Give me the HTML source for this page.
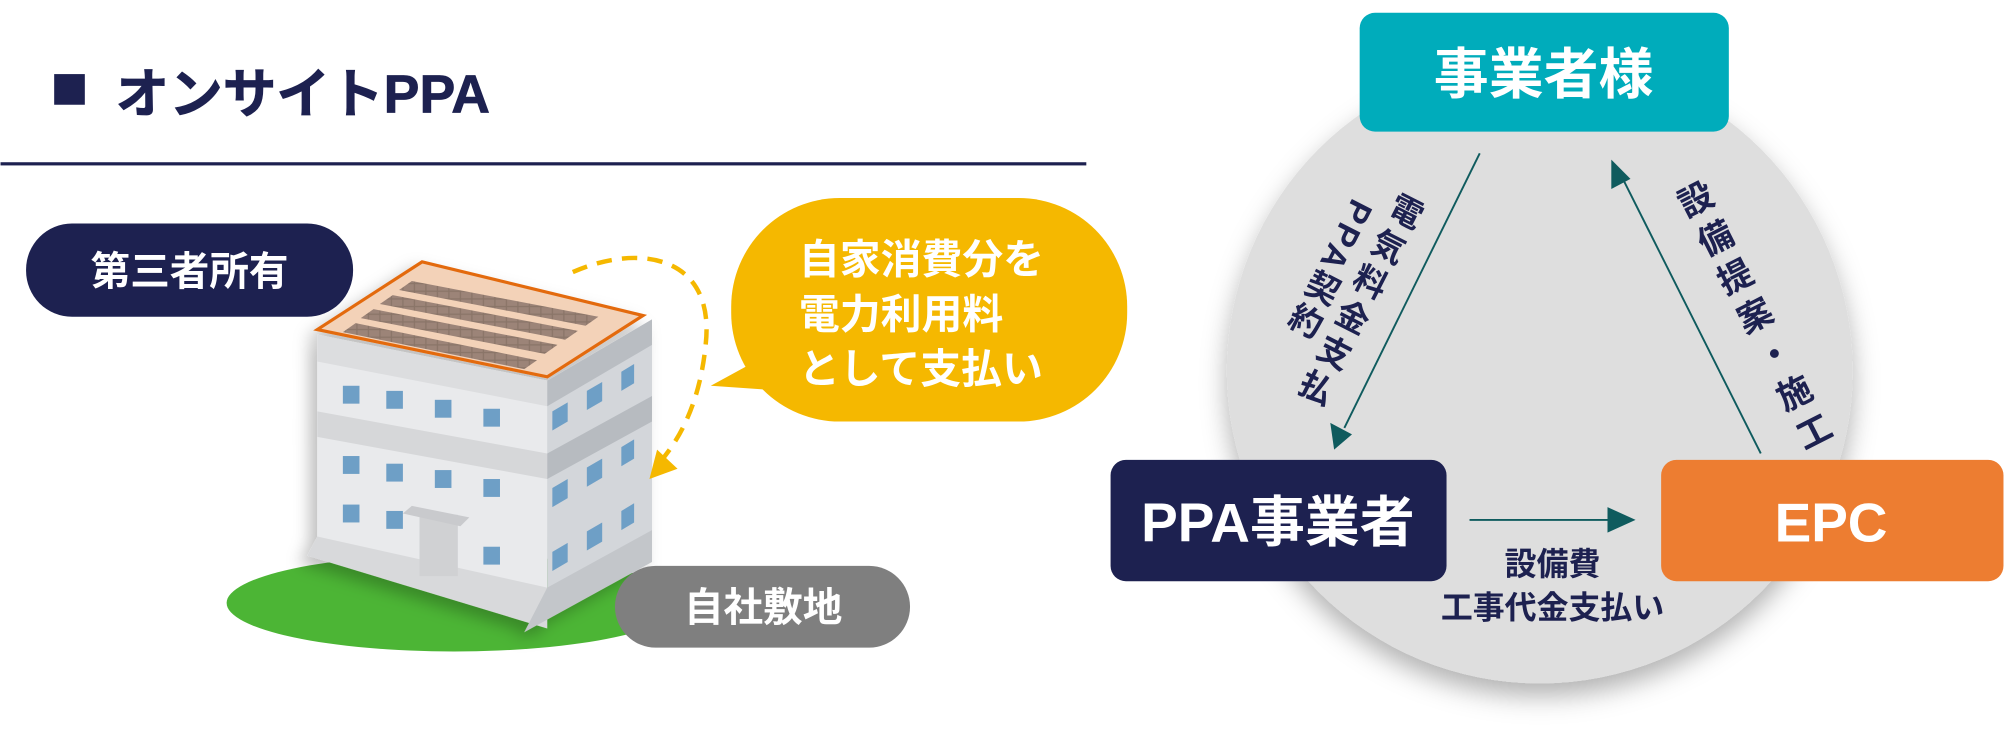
<!DOCTYPE html>
<html><head><meta charset="utf-8"><style>
html,body{margin:0;padding:0;background:#fff;width:2004px;height:746px;overflow:hidden}
svg{display:block}
text{font-family:"Liberation Sans","Noto Sans CJK JP",sans-serif;font-weight:bold}
</style></head><body>
<svg width="2004" height="746" viewBox="0 0 1568 584" xmlns="http://www.w3.org/2000/svg">
<defs>
<filter id="sh" x="-20%" y="-20%" width="140%" height="150%"><feDropShadow dx="0" dy="10" stdDeviation="10" flood-color="#000" flood-opacity="0.3"/></filter>
<filter id="bs" x="-20%" y="-20%" width="140%" height="140%"><feDropShadow dx="-6" dy="6" stdDeviation="6" flood-color="#000" flood-opacity="0.25"/></filter>
<pattern id="pv" width="9" height="6" patternUnits="userSpaceOnUse"><rect width="9" height="6" fill="#8a7468"/><rect x="0.5" y="0.5" width="8" height="5" fill="#9c8478"/></pattern>
</defs>
<rect x="42" y="58" width="24" height="24" fill="#1d2150"/>
<text x="90" y="88" font-size="42" fill="#1d2150" stroke="#1d2150" stroke-width="0.6">オンサイトPPA</text>
<rect x="0" y="127" width="850" height="2.5" fill="#1d2150"/>
<ellipse cx="355" cy="472" rx="178" ry="38" fill="#4cb535"/>
<g filter="url(#bs)">
<polygon points="248,265 428,300 428,470 248,428" fill="#e9eaec"/>
<polygon points="428,300 510,250 510,420 428,470" fill="#d3d6da"/>
<polygon points="240,435 248,420 428,460 428,492" fill="#d8d9db"/>
<polygon points="428,460 510,415 510,440 410,495" fill="#c3c6ca"/>
<polygon points="248,262 428,298 428,318 248,283" fill="#dcdddf"/>
<polygon points="428,298 510,250 510,270 428,318" fill="#b9bdc2"/>
<polygon points="248,322 428,355 428,375 248,342" fill="#d6d7d9"/>
<polygon points="428,355 510,310 510,330 428,375" fill="#b7bbc0"/>
<polygon points="248,258 330,205 503,247 428,295" fill="#f3d2b8" stroke="#e36a10" stroke-width="2.5"/>
<g fill="url(#pv)">
<polygon points="268,260 278,253 420,282 410,289"/>
<polygon points="282,249 292,242 436,270 426,277"/>
<polygon points="297,238 307,231 452,259 442,266"/>
<polygon points="312,227 322,220 468,248 458,255"/>
</g>
<rect x="328" y="403" width="30" height="48" fill="#d0d1d3"/>
<polygon points="315,402 360,412 367,405 322,396" fill="#c9cacd"/>
</g>
<g fill="#6e9fc6">
<rect x="268" y="302" width="13" height="14"/><rect x="302" y="306" width="13" height="14"/><rect x="340" y="313" width="13" height="14"/><rect x="378" y="320" width="13" height="14"/>
<rect x="268" y="357" width="13" height="14"/><rect x="302" y="363" width="13" height="14"/><rect x="340" y="368" width="13" height="14"/><rect x="378" y="375" width="13" height="14"/>
<rect x="268" y="395" width="13" height="14"/><rect x="302" y="400" width="13" height="14"/><rect x="378" y="428" width="13" height="14"/>
<polygon points="432,322 444,315 444,330 432,337"/><polygon points="459,306 471,299 471,314 459,321"/><polygon points="486,291 496,285 496,300 486,306"/>
<polygon points="432,382 444,375 444,390 432,397"/><polygon points="459,366 471,359 471,374 459,381"/><polygon points="486,350 496,344 496,359 486,365"/>
<polygon points="432,432 444,425 444,440 432,447"/><polygon points="459,416 471,409 471,424 459,431"/><polygon points="486,400 496,394 496,409 486,415"/>
</g>
<path d="M448,213 C500,190 560,200 552,270 C548,310 535,340 516,362" fill="none" stroke="#f5b800" stroke-width="3.5" stroke-dasharray="12,8"/>
<polygon points="508,375 514,352 530,367" fill="#f5b800"/>
<rect x="20" y="175" width="256" height="73" rx="36" fill="#1d2150"/>
<text x="148" y="223" font-size="31" fill="#fff" text-anchor="middle">第三者所有</text>
<rect x="481" y="443" width="231" height="64" rx="32" fill="#7f7f7f"/>
<text x="597" y="486" font-size="31" fill="#fff" text-anchor="middle">自社敷地</text>
<path d="M556,302 L600,278 L600,305 Z" fill="#f5b800"/>
<rect x="572" y="155" width="310" height="175" rx="85" fill="#f5b800"/>
<text font-size="32" fill="#fff"><tspan x="625" y="214">自家消費分を</tspan><tspan x="625" y="257">電力利用料</tspan><tspan x="625" y="300">として支払い</tspan></text>
<circle cx="1205" cy="290" r="245" fill="#dedede" filter="url(#sh)"/>
<rect x="1064" y="10" width="289" height="93" rx="12" fill="#00acbb"/>
<text x="1208" y="73" font-size="43" fill="#fff" text-anchor="middle">事業者様</text>
<rect x="869" y="360" width="263" height="95" rx="12" fill="#1d2150"/>
<text x="1000" y="424" font-size="43" fill="#fff" text-anchor="middle">PPA事業者</text>
<rect x="1300" y="360" width="268" height="95" rx="12" fill="#ed7d31"/>
<text x="1433" y="424" font-size="43" fill="#fff" text-anchor="middle">EPC</text>
<g stroke="#0f5b5e" stroke-width="1.5">
<line x1="1158" y1="120" x2="1052" y2="335"/>
<line x1="1378" y1="355" x2="1270" y2="140"/>
<line x1="1150" y1="407" x2="1262" y2="407"/>
</g>
<g fill="#0f5b5e">
<polygon points="1044,352 1041,331 1058,340"/>
<polygon points="1261,125 1261,148 1276,140"/>
<polygon points="1280,407 1258,397 1258,417"/>
</g>
<text transform="translate(1104,152) rotate(27)" font-size="26" fill="#1d2150" letter-spacing="5" style="writing-mode:vertical-rl">電気料金支払</text>
<text transform="translate(1066,158) rotate(27)" font-size="26" fill="#1d2150" letter-spacing="3" style="writing-mode:vertical-rl">PPA契約</text>
<text transform="translate(1318,145) rotate(-27)" font-size="27" fill="#1d2150" letter-spacing="7" style="writing-mode:vertical-rl">設備提案・施工</text>
<text x="1215" y="450" font-size="25" fill="#1d2150" text-anchor="middle">設備費</text>
<text x="1215" y="484" font-size="25" fill="#1d2150" text-anchor="middle">工事代金支払い</text>
</svg>
</body></html>
